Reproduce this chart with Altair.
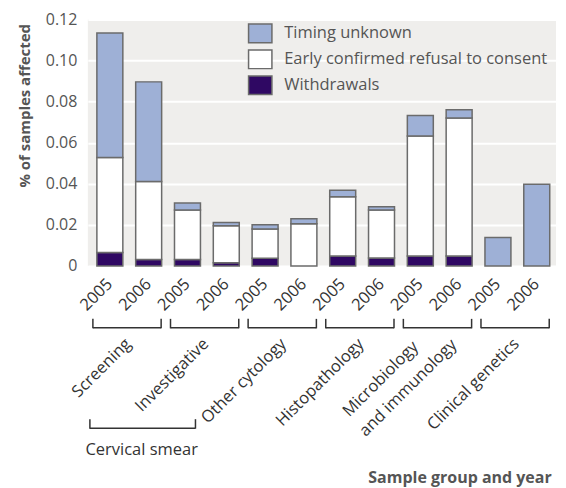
import altair as alt
import pandas as pd

groups = ["Screening", "Investigative", "Other cytology", "Histopathology",
          "Microbiology and immunology", "Clinical genetics"]
group_labels = ["Screening", "Investigative", "Other cytology", "Histopathology",
                "Microbiology\nand immunology", "Clinical genetics"]
years = ["2005", "2006"]
series = ["Timing unknown", "Early confirmed refusal to consent", "Withdrawals"]
colors = ["#9eb0d6", "#ffffff", "#2f0863"]

withdrawals = [0.0065, 0.0032, 0.0032, 0.0016, 0.0037, 0.0, 0.0049, 0.0039, 0.0049, 0.0049, 0.0, 0.0]
early = [0.0463, 0.0379, 0.0240, 0.0180, 0.0143, 0.0206, 0.0288, 0.0233, 0.0584, 0.0671, 0.0, 0.0]
unknown = [0.0606, 0.0485, 0.0034, 0.0016, 0.0021, 0.0024, 0.0032, 0.0016, 0.0099, 0.0040, 0.0138, 0.0398]

keys = [f"{g}|{y}" for g in groups for y in years]

rows = []
for i, k in enumerate(keys):
    for s, vals, o in [(series[2], withdrawals, 0), (series[1], early, 1), (series[0], unknown, 2)]:
        if vals[i] > 0:
            rows.append({"key": k, "series": s, "value": vals[i], "order": o})
df = pd.DataFrame(rows)

W, H = 469, 247
FONT = "Open Sans"
FS = 16.5
GREY = "#555555"
DARK = "#333333"

xscale = alt.Scale(domain=keys, paddingInner=0.331, paddingOuter=0.197, align=0.59)

bars = alt.Chart(df).mark_bar(stroke="#6b6b6b", strokeWidth=1.5).encode(
    x=alt.X("key:N", scale=xscale, sort=keys,
            axis=alt.Axis(title=None, labelExpr="split(datum.label, '|')[1]",
                          labelAngle=-45, labelAlign="right", labelBaseline="middle",
                          labelFontSize=FS, labelFont=FONT, labelColor=DARK,
                          labelPadding=15, ticks=False, domain=False)),
    y=alt.Y("value:Q", stack="zero",
            scale=alt.Scale(domain=[0, 0.12], nice=False),
            axis=alt.Axis(title=None, values=[0, 0.02, 0.04, 0.06, 0.08, 0.10, 0.12],
                          labelExpr="datum.value == 0 ? '0' : format(datum.value, '.2f')",
                          labelFontSize=16, labelFont=FONT, labelColor=GREY,
                          labelPadding=11, ticks=False, domain=False,
                          gridColor="#ffffff", gridWidth=2)),
    color=alt.Color("series:N", scale=alt.Scale(domain=series, range=colors),
                    legend=alt.Legend(title=None, orient="none", legendX=161.7, legendY=3,
                                      symbolType="M-1.17,-0.93H1.17V0.93H-1.17Z",
                                      symbolSize=400, symbolStrokeColor="#6b6b6b",
                                      symbolStrokeWidth=1.5, symbolOpacity=1,
                                      labelFontSize=FS, labelFont=FONT, labelColor=GREY,
                                      labelLimit=0, labelOffset=13, rowPadding=0, padding=0)),
    order=alt.Order("order:Q", sort="ascending"),
)

pairs = pd.DataFrame({"k1": [f"{g}|{years[0]}" for g in groups],
                      "k2": [f"{g}|{years[1]}" for g in groups],
                      "label": group_labels})
single = pairs[~pairs["label"].str.contains("\n")]
multi = pairs[pairs["label"].str.contains("\n")].copy()
multi["line1"] = multi["label"].str.split("\n").str[0]
multi["line2"] = multi["label"].str.split("\n").str[1]

xk1 = alt.X("k1:N", scale=xscale, sort=keys)
xk2 = alt.X("k2:N", scale=xscale, sort=keys)

line_style = dict(color="#333333", strokeWidth=1.5)
hline = alt.Chart(pairs).mark_rule(xOffset=-17, x2Offset=12.5, **line_style).encode(
    x=xk1, x2="k2:N", y=alt.value(309))
ltick = alt.Chart(pairs).mark_rule(xOffset=-17, **line_style).encode(
    x=xk1, y=alt.value(300), y2=alt.value(309.5))
rtick = alt.Chart(pairs).mark_rule(xOffset=12.5, **line_style).encode(
    x=xk2, y=alt.value(300), y2=alt.value(309.5))

txt = dict(angle=315, align="right", baseline="middle", font=FONT, fontSize=FS, color=DARK)
glabels = alt.Chart(single).mark_text(xOffset=18.5, **txt).encode(
    x=xk1, y=alt.value(322.5), text="label:N")
m1 = alt.Chart(multi).mark_text(xOffset=-4.8, **txt).encode(
    x=xk1, y=alt.value(325.3), text="line1:N")
m2 = alt.Chart(multi).mark_text(xOffset=33.7, **txt).encode(
    x=xk1, y=alt.value(323.3), text="line2:N")

cerv = pd.DataFrame({"k1": [keys[0]], "k2": [keys[2]], "label": ["Cervical smear"], "kc": [keys[1]]})
c_h = alt.Chart(cerv).mark_rule(xOffset=-20, x2Offset=8, **line_style).encode(
    x=xk1, x2="k2:N", y=alt.value(409.5))
c_l = alt.Chart(cerv).mark_rule(xOffset=-20, **line_style).encode(
    x=xk1, y=alt.value(400.5), y2=alt.value(410))
c_r = alt.Chart(cerv).mark_rule(xOffset=8, **line_style).encode(
    x=alt.X("k2:N", scale=xscale, sort=keys), y=alt.value(400.5), y2=alt.value(410))
c_t = alt.Chart(cerv).mark_text(font=FONT, fontSize=FS, color=DARK, xOffset=-7,
                                baseline="middle").encode(
    x=alt.X("kc:N", scale=xscale, sort=keys), y=alt.value(431.5), text="label:N")

titles = pd.DataFrame({"t": ["% of samples affected"]})
ytitle = alt.Chart(titles).mark_text(angle=270, font=FONT, fontWeight="bold", fontSize=15,
                                     color=GREY, align="center", baseline="middle").encode(
    x=alt.value(-63.3), y=alt.value(86.5), text="t:N")
xt = pd.DataFrame({"t": ["Sample group and year"]})
xtitle = alt.Chart(xt).mark_text(font=FONT, fontWeight="bold", fontSize=16,
                                 color=GREY, align="right", baseline="middle").encode(
    x=alt.value(464.7), y=alt.value(459.3), text="t:N")

chart = alt.layer(bars, hline, ltick, rtick, glabels, m1, m2, c_h, c_l, c_r, c_t, ytitle, xtitle).properties(
    width=W, height=H,
    autosize=alt.AutoSizeParams(type="none"),
    padding={"left": 80, "top": 11, "right": 2, "bottom": 221},
).configure_view(fill="#efeeec", stroke=None)

chart.save("out.html", embed_options={"renderer": "svg", "actions": False})
